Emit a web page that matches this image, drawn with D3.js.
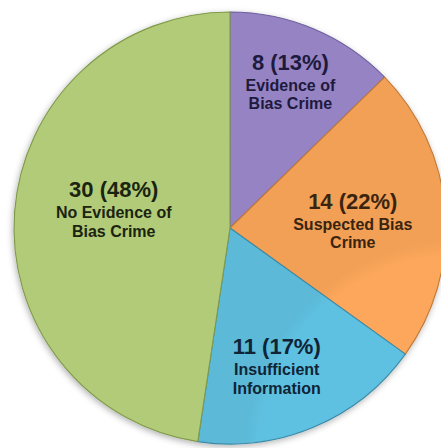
<!DOCTYPE html>
<html><head><meta charset="utf-8">
<script src="https://cdn.jsdelivr.net/npm/d3@7"></script>
<style>html,body{margin:0;padding:0;background:#fff;}svg{display:block;}</style>
</head><body>
<svg id="c" width="441" height="448"></svg>
<script>
const categories = ["Evidence of Bias Crime", "Suspected Bias Crime", "Insufficient Information", "No Evidence of Bias Crime"];
const labelLines = [["Evidence of", "Bias Crime"], ["Suspected Bias", "Crime"], ["Insufficient", "Information"], ["No Evidence of", "Bias Crime"]];
const counts = [8, 14, 11, 30];
const percents = ["13%", "22%", "17%", "48%"];
const colors = ["#9c89cd", "#fca75b", "#5fc1e1", "#bad47d"];
const strokes = ["#6f5f9e", "#c27a38", "#3a8aa8", "#7f9a4a"];
const textColors = ["#1e1a3c", "#3a2410", "#0f2436", "#1a2410"];

const W = 441, H = 448, cx = 230, cy = 228, R = 216;
const labelRadius = [0.72, 0.57, 0.70, 0.54];
const labelNudge = [[0, -7], [0, -2], [-12, -5], [0, -14]];

const svg = d3.select("#c");
const defs = svg.append("defs");
const f = defs.append("filter").attr("id", "sh").attr("x", "-10%").attr("y", "-10%").attr("width", "120%").attr("height", "120%");
f.append("feDropShadow").attr("dx", -1).attr("dy", 2).attr("stdDeviation", 3).attr("flood-color", "#000").attr("flood-opacity", 0.3);

colors.forEach((c, i) => {
  const g = defs.append("radialGradient").attr("id", "g" + i)
    .attr("gradientUnits", "userSpaceOnUse").attr("cx", cx).attr("cy", cy).attr("r", R);
  g.append("stop").attr("offset", "0%").attr("stop-color", c);
  g.append("stop").attr("offset", "93%").attr("stop-color", c);
  g.append("stop").attr("offset", "100%").attr("stop-color", d3.color(c).darker(0.12));
});

const pie = d3.pie().sort(null).value(d => d)(counts);
const arc = d3.arc().innerRadius(0).outerRadius(R);
const root = svg.append("g").attr("transform", `translate(${cx},${cy})`);
root.append("g").attr("filter", "url(#sh)")
  .selectAll("path").data(pie).join("path")
  .attr("d", arc)
  .attr("fill", (d, i) => `url(#g${i})`)
  .attr("stroke", (d, i) => strokes[i])
  .attr("stroke-width", 1.1)
  .attr("stroke-linejoin", "round");

const labels = root.append("g").attr("font-family", "Liberation Sans, Arial, sans-serif").attr("font-weight", "bold").attr("text-anchor", "middle");
pie.forEach((d, i) => {
  const la = d3.arc().innerRadius(R * labelRadius[i]).outerRadius(R * labelRadius[i]);
  const [x, y] = la.centroid(d);
  const t = labels.append("text").attr("fill", textColors[i])
    .attr("transform", `translate(${x + labelNudge[i][0]},${y + labelNudge[i][1]})`);
  t.append("tspan").attr("x", 0).attr("y", -8).attr("font-size", 22).text(`${counts[i]} (${percents[i]})`);
  labelLines[i].forEach((ln, k) => {
    t.append("tspan").attr("x", 0).attr("y", 13 + k * 18.5).attr("font-size", 16).text(ln);
  });
});
</script>
</body></html>
